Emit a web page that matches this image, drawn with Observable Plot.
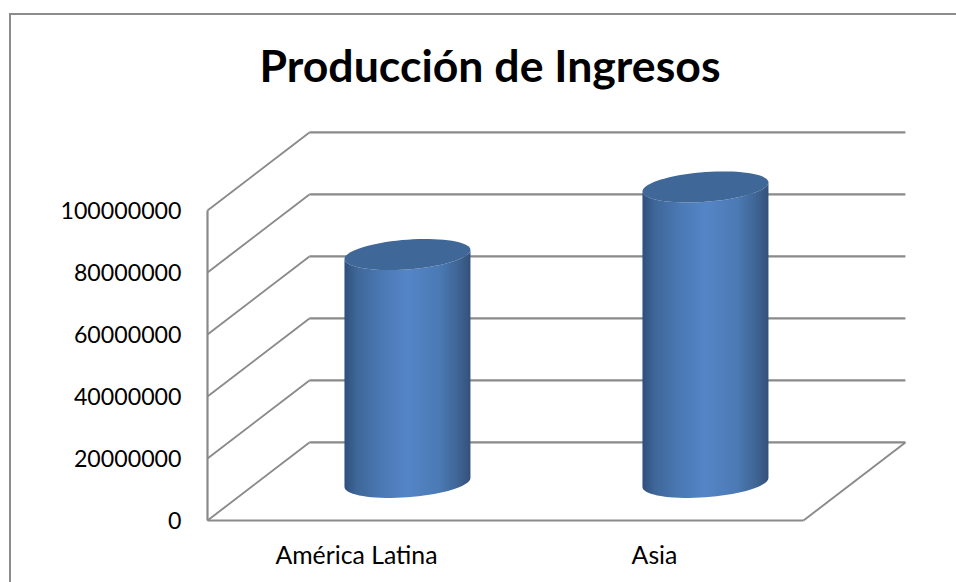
<!DOCTYPE html>
<html lang="es">
<head>
<meta charset="utf-8">
<title>Producción de Ingresos</title>
<script src="https://cdn.jsdelivr.net/npm/d3@7"></script>
<script src="https://cdn.jsdelivr.net/npm/@observablehq/plot@0.6"></script>
<style>
  html, body { margin: 0; background: #fff; overflow: hidden; }
  #frame { position: absolute; left: 9px; top: 13px; right: 0; bottom: 0;
           border-top: 2px solid #8c8c8c; border-left: 2px solid #8c8c8c; }
  #title { position: absolute; left: 0; top: 37px; width: 980px; text-align: center;
           font: 700 44.6px Lato, sans-serif; line-height: 56px; color: #000; }
  #chart { position: absolute; left: 0; top: 100px; }
  #chart svg { background: transparent; }
</style>
</head>
<body>
<div id="frame"></div>
<div id="title">Producción de Ingresos</div>
<div id="chart"></div>
<script>
// Income by region
const categories = ["América Latina", "Asia"];
const ingresos = [73500000, 95300000];
const yTicks = [0, 20000000, 40000000, 60000000, 80000000, 100000000];

// Oblique projection of the floor and walls, in scale units
const depthX = 0.342;
const depthY = 25200000;
const gridColor = "#8a8a8a";

// Cylinder proportions, in scale units
const radiusX = 0.2114;
const tiltY = 1450000;
const radiusY = 4800000;
const baseLift = 12300000;
const depthMid = 0.171;

const steps = d3.range(0, 73).map((i) => (i * Math.PI) / 36);

function ringPoint(center, level, t) {
  return {
    x: center + radiusX * Math.cos(t),
    y: level + tiltY * Math.cos(t) + radiusY * Math.sin(t)
  };
}

// Outline of the visible side: front half of the top ring, then of the bottom ring
function bodyOutline(center, value) {
  const front = steps.filter((t) => t >= Math.PI && t <= 2 * Math.PI);
  const top = front.map((t) => ringPoint(center, baseLift + value, t));
  const bottom = front.slice().reverse().map((t) => ringPoint(center, baseLift, t));
  return [...top, ...bottom];
}

const topOutline = (center, value) => steps.map((t) => ringPoint(center, baseLift + value, t));

const positions = categories.map((_, i) => i + 0.5);

const walls = yTicks.map((v) => ({v}));

const plot = Plot.plot({
  width: 956,
  height: 482,
  margin: 0,
  style: {fontFamily: "Lato, sans-serif", color: "#000", overflow: "visible"},
  x: {type: "linear", domain: [0, categories.length], range: [207, 803]},
  y: {type: "linear", domain: [0, 100000000], range: [420, 110]},
  marks: [
    // Side wall and back wall grid lines
    Plot.link(walls, {
      x1: 0, y1: "v", x2: depthX, y2: (d) => d.v + depthY,
      stroke: gridColor, strokeWidth: 1.9
    }),
    Plot.link(walls, {
      x1: depthX, y1: (d) => d.v + depthY, x2: 2 + depthX, y2: (d) => d.v + depthY,
      stroke: gridColor, strokeWidth: 2.2
    }),
    // Floor edges and value axis line
    Plot.link([0], {x1: 0, y1: 0, x2: 2, y2: 0, stroke: gridColor, strokeWidth: 2.2}),
    Plot.link([0], {x1: 2, y1: 0, x2: 2 + depthX, y2: depthY, stroke: gridColor, strokeWidth: 1.9}),
    Plot.link([0], {x1: 0, y1: 0, x2: 0, y2: 100000000, stroke: gridColor, strokeWidth: 2.2}),
    // Cylinders
    ...ingresos.flatMap((value, i) => [
      Plot.line(bodyOutline(positions[i] + depthMid, value), {
        x: "x", y: "y", curve: "linear-closed", stroke: "none", fill: "url(#cylinder-side)"
      }),
      Plot.line(topOutline(positions[i] + depthMid, value), {
        x: "x", y: "y", curve: "linear-closed", stroke: "none", fill: "#3f6797"
      })
    ]),
    Plot.axisY({
      ticks: yTicks, tickSize: 0, tickPadding: 26, tickFormat: (d) => String(d),
      label: null, fontSize: 23.2, anchor: "left", x: 0, dy: 1
    }),
    Plot.axisX({
      ticks: positions, tickSize: 0, tickPadding: 26,
      tickFormat: (d) => categories[positions.indexOf(d)],
      label: null, fontSize: 24.8, anchor: "bottom", y: 0
    })
  ]
});

// Horizontal shading of the cylinder side
const grad = d3.select(plot).insert("defs", ":first-child")
  .append("linearGradient").attr("id", "cylinder-side")
  .attr("x1", 0).attr("x2", 1).attr("y1", 0).attr("y2", 0);
[[0, "#2f4f7c"], [0.1, "#3f6799"], [0.3, "#4a79b4"], [0.5, "#5485c6"], [0.75, "#4b7ab5"], [0.9, "#3f6595"], [1, "#34507a"]]
  .forEach(([o, c]) => grad.append("stop").attr("offset", o).attr("stop-color", c));

document.getElementById("chart").append(plot);
</script>
</body>
</html>
